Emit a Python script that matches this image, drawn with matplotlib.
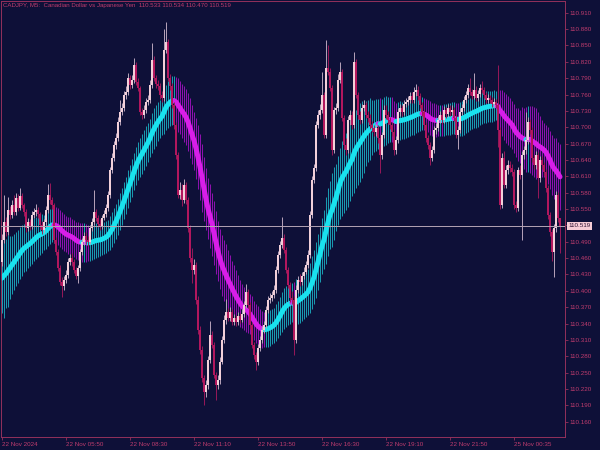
import numpy as np
import pandas as pd
import matplotlib
matplotlib.use("Agg")
import matplotlib.pyplot as plt
import matplotlib.transforms as mtransforms

# CADJPY M5 bars, oldest first (open of each bar = previous close)
first_open = 110.452
closes = [
    110.493, 110.526, 110.508, 110.548, 110.539, 110.557, 110.545, 110.570, 110.552, 110.574,
    110.557, 110.545, 110.515, 110.526, 110.519, 110.539, 110.545, 110.548, 110.541, 110.521,
    110.512, 110.526, 110.548, 110.576, 110.567, 110.557, 110.493, 110.471, 110.442, 110.416,
    110.409, 110.420, 110.429, 110.453, 110.460, 110.453, 110.438, 110.427, 110.442, 110.471,
    110.490, 110.501, 110.493, 110.490, 110.515, 110.526, 110.545, 110.534, 110.523, 110.519,
    110.534, 110.541, 110.552, 110.576, 110.622, 110.644, 110.668, 110.680, 110.710, 110.728,
    110.735, 110.759, 110.765, 110.790, 110.778, 110.787, 110.814, 110.783, 110.772, 110.728,
    110.723, 110.732, 110.746, 110.750, 110.778, 110.823, 110.790, 110.779, 110.776, 110.759,
    110.754, 110.842, 110.856, 110.790, 110.776, 110.741, 110.704, 110.649, 110.576, 110.585,
    110.567, 110.594, 110.567, 110.515, 110.460, 110.438, 110.447, 110.383, 110.328, 110.292,
    110.240, 110.214, 110.227, 110.273, 110.319, 110.301, 110.246, 110.227, 110.236, 110.270,
    110.310, 110.347, 110.361, 110.350, 110.361, 110.343, 110.350, 110.343, 110.354, 110.347,
    110.358, 110.374, 110.398, 110.374, 110.337, 110.301, 110.282, 110.270, 110.295, 110.310,
    110.328, 110.337, 110.365, 110.383, 110.387, 110.392, 110.402, 110.438, 110.466, 110.484,
    110.497, 110.475, 110.438, 110.411, 110.387, 110.383, 110.310, 110.402, 110.420, 110.416,
    110.427, 110.435, 110.447, 110.466, 110.539, 110.603, 110.625, 110.704, 110.723, 110.732,
    110.759, 110.686, 110.809, 110.801, 110.772, 110.658, 110.732, 110.735, 110.787, 110.801,
    110.717, 110.668, 110.658, 110.713, 110.723, 110.704, 110.820, 110.759, 110.723, 110.713,
    110.735, 110.741, 110.723, 110.717, 110.704, 110.699, 110.691, 110.699, 110.680, 110.649,
    110.686, 110.732, 110.723, 110.713, 110.704, 110.691, 110.658, 110.677, 110.728, 110.735,
    110.728, 110.743, 110.746, 110.750, 110.757, 110.750, 110.765, 110.768, 110.757, 110.741,
    110.728, 110.704, 110.680, 110.668, 110.644, 110.658, 110.695, 110.699, 110.713, 110.723,
    110.713, 110.732, 110.724, 110.735, 110.728, 110.732, 110.717, 110.686, 110.695, 110.728,
    110.735, 110.750, 110.759, 110.772, 110.765, 110.757, 110.768, 110.754, 110.761, 110.772,
    110.768, 110.759, 110.750, 110.754, 110.750, 110.743, 110.746, 110.741, 110.695, 110.557,
    110.644, 110.594, 110.622, 110.631, 110.625, 110.618, 110.557, 110.552, 110.622, 110.612,
    110.649, 110.658, 110.677, 110.710, 110.695, 110.644, 110.631, 110.649, 110.607, 110.640,
    110.631, 110.618, 110.589, 110.539, 110.508, 110.471, 110.515, 110.576, 110.533, 110.519,
]
highs = [
    110.505, 110.575, 110.535, 110.572, 110.556, 110.566, 110.575, 110.580, 110.578, 110.588,
    110.580, 110.562, 110.550, 110.533, 110.531, 110.546, 110.552, 110.560, 110.553, 110.545,
    110.528, 110.532, 110.556, 110.596, 110.598, 110.573, 110.562, 110.498, 110.476, 110.447,
    110.425, 110.428, 110.438, 110.460, 110.468, 110.470, 110.458, 110.444, 110.448, 110.477,
    110.496, 110.508, 110.507, 110.500, 110.521, 110.533, 110.585, 110.551, 110.540, 110.531,
    110.540, 110.548, 110.560, 110.583, 110.628, 110.652, 110.675, 110.690, 110.718, 110.750,
    110.745, 110.766, 110.775, 110.800, 110.796, 110.795, 110.827, 110.820, 110.790, 110.776,
    110.735, 110.740, 110.754, 110.760, 110.786, 110.855, 110.830, 110.796, 110.786, 110.782,
    110.766, 110.880, 110.893, 110.862, 110.797, 110.782, 110.746, 110.709, 110.655, 110.600,
    110.596, 110.606, 110.600, 110.572, 110.520, 110.478, 110.458, 110.452, 110.390, 110.335,
    110.298, 110.246, 110.236, 110.280, 110.345, 110.326, 110.306, 110.252, 110.245, 110.278,
    110.318, 110.355, 110.385, 110.368, 110.370, 110.366, 110.357, 110.356, 110.361, 110.360,
    110.366, 110.381, 110.413, 110.404, 110.380, 110.342, 110.306, 110.288, 110.302, 110.317,
    110.335, 110.345, 110.372, 110.390, 110.396, 110.400, 110.410, 110.445, 110.473, 110.492,
    110.536, 110.505, 110.480, 110.443, 110.416, 110.400, 110.390, 110.410, 110.428, 110.430,
    110.435, 110.443, 110.455, 110.474, 110.546, 110.610, 110.633, 110.712, 110.732, 110.742,
    110.802, 110.765, 110.860, 110.850, 110.808, 110.778, 110.738, 110.745, 110.798, 110.820,
    110.806, 110.722, 110.680, 110.720, 110.732, 110.730, 110.838, 110.826, 110.765, 110.730,
    110.742, 110.750, 110.747, 110.730, 110.724, 110.712, 110.705, 110.706, 110.704, 110.685,
    110.692, 110.740, 110.740, 110.729, 110.719, 110.710, 110.697, 110.684, 110.735, 110.743,
    110.741, 110.750, 110.754, 110.758, 110.765, 110.764, 110.773, 110.780, 110.775, 110.762,
    110.747, 110.733, 110.709, 110.686, 110.673, 110.666, 110.702, 110.707, 110.720, 110.730,
    110.729, 110.739, 110.738, 110.742, 110.741, 110.740, 110.737, 110.722, 110.702, 110.735,
    110.742, 110.757, 110.766, 110.780, 110.790, 110.771, 110.800, 110.775, 110.768, 110.780,
    110.785, 110.774, 110.765, 110.761, 110.760, 110.756, 110.753, 110.752, 110.814, 110.700,
    110.652, 110.656, 110.630, 110.640, 110.638, 110.632, 110.624, 110.564, 110.628, 110.630,
    110.656, 110.666, 110.728, 110.718, 110.716, 110.700, 110.650, 110.656, 110.655, 110.648,
    110.648, 110.637, 110.624, 110.595, 110.545, 110.514, 110.522, 110.583, 110.582, 110.534,
]
lows = [
    110.445, 110.488, 110.500, 110.503, 110.532, 110.533, 110.540, 110.540, 110.547, 110.548,
    110.552, 110.538, 110.508, 110.509, 110.512, 110.514, 110.533, 110.538, 110.534, 110.514,
    110.504, 110.506, 110.520, 110.543, 110.560, 110.550, 110.488, 110.465, 110.436, 110.410,
    110.389, 110.402, 110.414, 110.424, 110.447, 110.446, 110.432, 110.421, 110.414, 110.437,
    110.466, 110.484, 110.486, 110.483, 110.485, 110.510, 110.520, 110.528, 110.517, 110.512,
    110.513, 110.529, 110.536, 110.547, 110.570, 110.616, 110.638, 110.660, 110.674, 110.704,
    110.722, 110.729, 110.752, 110.760, 110.770, 110.772, 110.782, 110.777, 110.766, 110.722,
    110.716, 110.717, 110.727, 110.740, 110.745, 110.772, 110.784, 110.772, 110.769, 110.752,
    110.747, 110.748, 110.836, 110.784, 110.769, 110.735, 110.697, 110.642, 110.570, 110.568,
    110.555, 110.562, 110.560, 110.508, 110.452, 110.415, 110.430, 110.375, 110.320, 110.285,
    110.232, 110.190, 110.205, 110.220, 110.268, 110.295, 110.240, 110.200, 110.220, 110.230,
    110.265, 110.305, 110.340, 110.344, 110.345, 110.337, 110.337, 110.336, 110.337, 110.341,
    110.342, 110.352, 110.369, 110.368, 110.330, 110.295, 110.275, 110.255, 110.264, 110.289,
    110.304, 110.322, 110.331, 110.359, 110.377, 110.381, 110.386, 110.396, 110.432, 110.460,
    110.478, 110.469, 110.432, 110.405, 110.380, 110.376, 110.282, 110.304, 110.396, 110.409,
    110.410, 110.421, 110.430, 110.441, 110.460, 110.533, 110.597, 110.619, 110.698, 110.716,
    110.726, 110.680, 110.680, 110.795, 110.766, 110.650, 110.652, 110.725, 110.729, 110.781,
    110.711, 110.660, 110.650, 110.652, 110.705, 110.697, 110.698, 110.753, 110.716, 110.706,
    110.707, 110.729, 110.717, 110.710, 110.697, 110.692, 110.684, 110.684, 110.672, 110.616,
    110.642, 110.680, 110.716, 110.706, 110.697, 110.684, 110.650, 110.651, 110.671, 110.721,
    110.721, 110.722, 110.737, 110.740, 110.744, 110.744, 110.744, 110.758, 110.750, 110.735,
    110.721, 110.697, 110.673, 110.660, 110.630, 110.638, 110.652, 110.688, 110.693, 110.707,
    110.706, 110.707, 110.717, 110.718, 110.721, 110.722, 110.711, 110.680, 110.660, 110.689,
    110.722, 110.729, 110.744, 110.753, 110.759, 110.751, 110.751, 110.748, 110.748, 110.755,
    110.762, 110.753, 110.744, 110.744, 110.744, 110.737, 110.737, 110.735, 110.663, 110.551,
    110.552, 110.588, 110.588, 110.615, 110.618, 110.611, 110.550, 110.545, 110.546, 110.605,
    110.493, 110.642, 110.651, 110.670, 110.688, 110.637, 110.624, 110.624, 110.570, 110.600,
    110.624, 110.611, 110.582, 110.532, 110.500, 110.455, 110.425, 110.508, 110.527, 110.470,
]

symbol_info = "CADJPY, M5:  Canadian Dollar vs Japanese Yen  110.533 110.534 110.470 110.519"
last_price = 110.519
mid_start = 110.420          # indicator value at the left edge
time_labels = ["22 Nov 2024", "22 Nov 05:50", "22 Nov 08:30", "22 Nov 11:10", "22 Nov 13:50",
               "22 Nov 16:30", "22 Nov 19:10", "22 Nov 21:50", "25 Nov 00:35"]
time_bars = [0, 32, 64, 96, 128, 160, 192, 224, 256]
price_ticks = [110.160, 110.190, 110.220, 110.250, 110.280, 110.310, 110.340, 110.370, 110.400,
               110.430, 110.460, 110.490, 110.520, 110.550, 110.580, 110.610, 110.640, 110.670,
               110.700, 110.730, 110.760, 110.790, 110.820, 110.850, 110.880, 110.910]

BG = "#0e1038"
FRAME = "#93305c"
TXT = "#c03c6e"

n = len(closes)
x = np.arange(n)
c = np.array(closes)
h = np.array(highs)
l = np.array(lows)
o = np.r_[first_open, c[:-1]]

# indicator: weighted MA of close (44) with an ATR band around it
period = 44
w = np.arange(1, period + 1)
padded = pd.Series([mid_start] * (period - 1) + closes)
mid = padded.rolling(period).apply(lambda v: np.dot(v, w) / w.sum(), raw=True).values[period - 1:]
tr = np.maximum(h - l, np.maximum(np.abs(h - o), np.abs(l - o)))
atr = pd.Series(tr).rolling(20, min_periods=1).mean().values
half = 1.05 * atr
rising = np.r_[True, np.diff(mid) >= 0]

fig = plt.figure(figsize=(6, 4.5), dpi=100, facecolor=BG)
ax = fig.add_axes([1 / 600, 13 / 450, 564 / 600, 436 / 450], facecolor=BG)

ax.vlines(x[rising], (mid - half)[rising], (mid + half)[rising], color="#1a9fb4", lw=0.7, zorder=1)
ax.vlines(x[~rising], (mid - half)[~rising], (mid + half)[~rising], color="#9212b2", lw=0.7, zorder=1)

# thick line, one run per direction
s = 1
for j in range(2, n + 1):
    if j == n or rising[j] != rising[s]:
        ax.plot(x[s - 1:j], mid[s - 1:j], color="#19e2ee" if rising[s] else "#d81ee8",
                lw=3.6, solid_capstyle="round", zorder=2)
        s = j

up = c >= o
ax.vlines(x[up], l[up], h[up], color="#b8a4bc", lw=0.7, zorder=3)
ax.vlines(x[~up], l[~up], h[~up], color="#98185a", lw=0.7, zorder=3)
ax.bar(x[up], (c - o)[up], bottom=o[up], width=0.9, color="#f2d0da", lw=0, zorder=4)
ax.bar(x[~up], (o - c)[~up], bottom=c[~up], width=0.9, color="#b2175e", lw=0, zorder=4)

ax.axhline(last_price, color="#b4a4b4", lw=0.7, zorder=5)

ax.set_xlim(-0.5, 281.5)
ax.set_ylim(110.1319, 110.9316)
for sp in ax.spines.values():
    sp.set_color(FRAME)
    sp.set_linewidth(0.7)

# the last-price box covers the nearest scale label
ax.yaxis.tick_right()
ax.set_yticks(price_ticks)
ax.set_yticklabels(["" if abs(p - last_price) < 0.005 else f"{p:.3f}" for p in price_ticks])
ax.set_xticks(time_bars)
ax.set_xticklabels(time_labels, ha="left")
ax.tick_params(axis="both", colors=FRAME, labelcolor=TXT, labelsize=4.5, length=2.5, width=0.6, pad=1)
for t in ax.get_xticklabels() + ax.get_yticklabels():
    t.set_fontfamily("Liberation Sans")

trans = mtransforms.blended_transform_factory(ax.transAxes, ax.transData)
ax.text(1.006, last_price, f"{last_price:.3f}", transform=trans, ha="left", va="center",
        fontsize=4.5, family="Liberation Sans", color="#2a1030", zorder=6, clip_on=False,
        bbox=dict(boxstyle="square,pad=0.25", fc="#f6ccd6", ec="none"))

fig.text(3 / 600, 1 - 6 / 450, symbol_info, ha="left", va="center", fontsize=4.4,
         family="Liberation Sans", color=TXT)

fig.savefig("out.png", dpi=100, facecolor=BG)
